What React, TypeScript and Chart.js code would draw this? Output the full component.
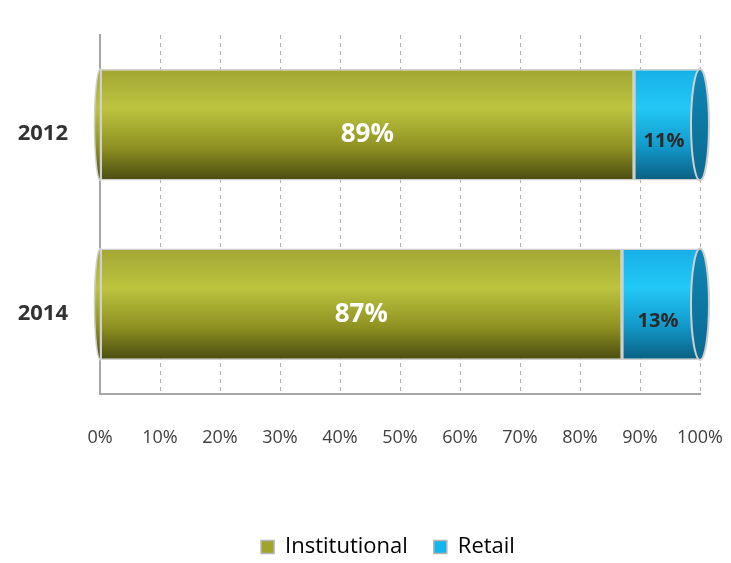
import React, { useEffect, useRef } from "react";
import { Chart, registerables } from "chart.js";

Chart.register(...registerables);

const categories = ["2012", "2014"];
const institutional = [89, 87];
const retail = [11, 13];
const xTicks = [0, 10, 20, 30, 40, 50, 60, 70, 80, 90, 100];

const BAR_FRACTION = 0.62;

function makeGradient(c: any, stops: [number, string][], fallback: string) {
  const chart = c.chart;
  const ys = chart.scales && chart.scales.y;
  if (!chart.chartArea || !ys || c.dataIndex === undefined) return fallback;
  const yc = ys.getPixelForValue(c.dataIndex);
  const h = (ys.height / categories.length) * BAR_FRACTION;
  const g = chart.ctx.createLinearGradient(0, yc - h / 2, 0, yc + h / 2);
  stops.forEach(([o, col]) => g.addColorStop(o, col));
  return g;
}

const labelPlugin = {
  id: "barLabels",
  afterDatasetsDraw(chart: any) {
    const { ctx } = chart;
    chart.data.datasets.forEach((ds: any, di: number) => {
      const meta = chart.getDatasetMeta(di);
      meta.data.forEach((el: any, i: number) => {
        const p = el.getCenterPoint();
        ctx.save();
        ctx.textAlign = "center";
        ctx.textBaseline = "middle";
        if (di === 0) {
          ctx.fillStyle = "#ffffff";
          ctx.font = "bold 26px 'Open Sans', sans-serif";
          ctx.fillText(ds.data[i] + "%", p.x, p.y + 10);
        } else {
          ctx.fillStyle = "#2a2a2a";
          ctx.font = "bold 20px 'Open Sans', sans-serif";
          ctx.fillText(ds.data[i] + "%", p.x - 3, p.y + 17);
        }
        ctx.restore();
      });
    });
  },
};

const capPlugin = {
  id: "cylCaps",
  afterDatasetsDraw(chart: any) {
    const { ctx } = chart;
    const meta0 = chart.getDatasetMeta(0);
    meta0.data.forEach((el: any) => {
      const h = el.height;
      ctx.save();
      ctx.beginPath();
      ctx.ellipse(el.base, el.y, 6, h / 2, 0, Math.PI / 2, (Math.PI * 3) / 2);
      ctx.closePath();
      ctx.fillStyle = el.options.backgroundColor;
      ctx.fill();
      ctx.lineWidth = 1.5;
      ctx.strokeStyle = "#cfcfcf";
      ctx.stroke();
      ctx.restore();
    });
    const meta = chart.getDatasetMeta(1);
    meta.data.forEach((el: any) => {
      const h = el.height;
      ctx.save();
      ctx.beginPath();
      ctx.ellipse(el.x, el.y, 9, h / 2, 0, 0, Math.PI * 2);
      const g = ctx.createLinearGradient(0, el.y - h / 2, 0, el.y + h / 2);
      g.addColorStop(0, "#0f86b5");
      g.addColorStop(1, "#0a6a90");
      ctx.fillStyle = g;
      ctx.fill();
      ctx.lineWidth = 2;
      ctx.strokeStyle = "#cfcfcf";
      ctx.stroke();
      ctx.restore();
    });
  },
};

const legendShift = {
  id: "legendShift",
  afterLayout(chart: any) {
    const lg = chart.legend;
    if (lg) {
      lg.left += 34;
      lg.right += 34;
    }
  },
};

export default function App() {
  const ref = useRef<HTMLCanvasElement>(null);
  useEffect(() => {
    if (!ref.current) return;
    const chart = new Chart(ref.current, {
      type: "bar",
      data: {
        labels: categories,
        datasets: [
          {
            label: "Institutional",
            data: institutional,
            backgroundColor: (c: any) =>
              makeGradient(
                c,
                [
                  [0, "#a2a633"],
                  [0.35, "#bcc43f"],
                  [0.7, "#8f9222"],
                  [1, "#4a4b10"],
                ],
                "#9fa42a"
              ),
            borderColor: "#cfcfcf",
            borderWidth: 1.5,
            borderSkipped: false,
            barPercentage: BAR_FRACTION,
            categoryPercentage: 1,
          } as any,
          {
            label: "Retail",
            data: retail,
            backgroundColor: (c: any) =>
              makeGradient(
                c,
                [
                  [0, "#17b0e8"],
                  [0.35, "#22c8f6"],
                  [0.7, "#1298c8"],
                  [1, "#0a5f82"],
                ],
                "#12b5ee"
              ),
            borderColor: "#cfcfcf",
            borderWidth: 1.5,
            borderSkipped: false,
            barPercentage: BAR_FRACTION,
            categoryPercentage: 1,
          } as any,
        ],
      },
      options: {
        indexAxis: "y",
        animation: false,
        responsive: false,
        maintainAspectRatio: false,
        layout: { padding: { top: 27, right: 23, left: 0, bottom: -5 } },
        scales: {
          x: {
            stacked: true,
            min: 0,
            max: 100,
            afterBuildTicks: (s: any) => {
              s.ticks = xTicks.map((v) => ({ value: v }));
            },
            afterFit: (s: any) => {
              s.height = 116;
              s.paddingRight = 0;
              s.paddingLeft = 0;
            },
            ticks: {
              callback: (v: any) => v + "%",
              padding: 33,
              color: "#404040",
              font: { size: 18, family: "'Open Sans', sans-serif" },
              maxRotation: 0,
              autoSkip: false,
            },
            grid: {
              color: "#b0b0b0",
              drawTicks: false,
              lineWidth: 1,
            },
            border: { display: true, color: "#a6a6a6", width: 2, dash: [4, 4] },
          },
          y: {
            stacked: true,
            afterFit: (s: any) => {
              s.width = 92;
              s.paddingTop = 0;
              s.paddingBottom = 0;
            },
            ticks: {
              padding: 32,
              labelOffset: 9,
              color: "#333333",
              font: { size: 22, weight: "bold", family: "'Open Sans', sans-serif" },
            },
            grid: { display: false, drawTicks: false },
            border: { display: true, color: "#a6a6a6", width: 2 },
          },
        },
        plugins: {
          legend: {
            position: "bottom",
            labels: {
              padding: 26,
              boxWidth: 13,
              boxHeight: 13,
              color: "#404040",
              font: { size: 22, family: "'Open Sans', sans-serif" },
              generateLabels: () => [
                { text: "Institutional", fillStyle: "#9fa42a", strokeStyle: "#b5b5b5", lineWidth: 1.5, datasetIndex: 0 } as any,
                { text: "Retail", fillStyle: "#12b5ee", strokeStyle: "#b5b5b5", lineWidth: 1.5, datasetIndex: 1 } as any,
              ],
            },
          },
          tooltip: { enabled: false },
        },
      } as any,
      plugins: [capPlugin, labelPlugin, legendShift],
    });
    return () => chart.destroy();
  }, []);
  return (
    <div style={{ width: 715, height: 555, marginBottom: -8 }}>
      <canvas ref={ref} width={715} height={555} style={{ display: "block" }} />
    </div>
  );
}
